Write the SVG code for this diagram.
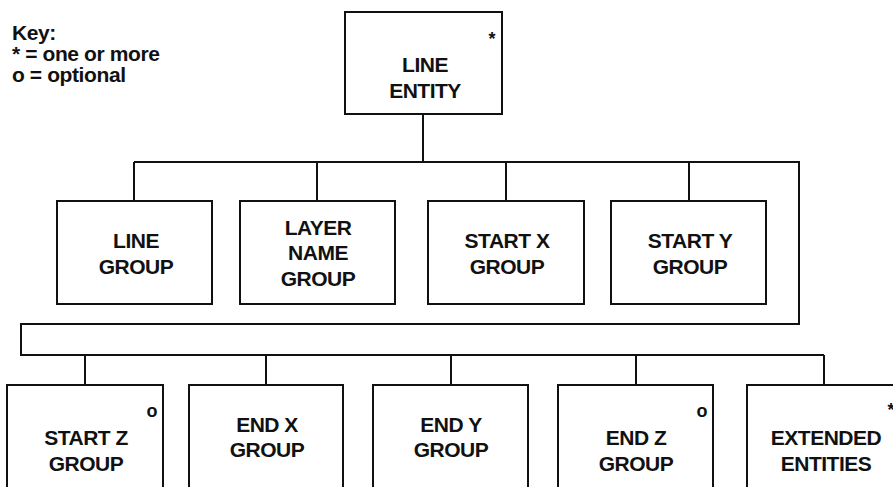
<svg xmlns="http://www.w3.org/2000/svg" width="893" height="487" viewBox="0 0 893 487">
<style>
.box{fill:#fff;stroke:#111;stroke-width:2}
.conn{fill:none;stroke:#111;stroke-width:2}
text{font-family:"Liberation Sans",Arial,sans-serif;fill:#111;font-weight:bold}
.lbl{font-size:21px;text-anchor:middle;letter-spacing:-0.5px}
.key{font-size:21px;letter-spacing:-0.4px}
.mark{font-size:18px;text-anchor:middle}
</style>
<rect width="893" height="487" fill="#fff"/>
<g id="key">
<text class="key" x="12" y="40">Key:</text>
<text class="key" x="12" y="61">* = one or more</text>
<text class="key" x="12" y="82">o = optional</text>
</g>
<g id="connectors" class="conn">
<path d="M423 114V162M134 162H799V324H21V355H824M134 162V201M317 162V201M506 162V201M689 162V201M85 355V385M266 355V385M451 355V385M636 355V385M824 355V385"/>
</g>
<g id="line-entity">
<rect class="box" x="345" y="12" width="157" height="102"/>
<text class="mark" x="492" y="45">*</text>
<text class="lbl" x="425" y="72">LINE</text>
<text class="lbl" x="425" y="98">ENTITY</text>
</g>
<g id="line-group">
<rect class="box" x="57" y="201" width="155" height="103"/>
<text class="lbl" x="136" y="248">LINE</text>
<text class="lbl" x="136" y="274">GROUP</text>
</g>
<g id="layer-name-group">
<rect class="box" x="240" y="201" width="155" height="103"/>
<text class="lbl" x="318" y="235">LAYER</text>
<text class="lbl" x="318" y="260">NAME</text>
<text class="lbl" x="318" y="286">GROUP</text>
</g>
<g id="start-x-group">
<rect class="box" x="428" y="201" width="156" height="103"/>
<text class="lbl" x="507" y="248">START X</text>
<text class="lbl" x="507" y="274">GROUP</text>
</g>
<g id="start-y-group">
<rect class="box" x="611" y="201" width="155" height="103"/>
<text class="lbl" x="690" y="248">START Y</text>
<text class="lbl" x="690" y="274">GROUP</text>
</g>
<g id="start-z-group">
<rect class="box" x="7" y="385" width="156" height="104"/>
<text class="mark" x="152" y="417">o</text>
<text class="lbl" x="86" y="445">START Z</text>
<text class="lbl" x="86" y="471">GROUP</text>
</g>
<g id="end-x-group">
<rect class="box" x="189" y="385" width="154" height="104"/>
<text class="lbl" x="267" y="432">END X</text>
<text class="lbl" x="267" y="457">GROUP</text>
</g>
<g id="end-y-group">
<rect class="box" x="373" y="385" width="155" height="104"/>
<text class="lbl" x="451" y="432">END Y</text>
<text class="lbl" x="451" y="457">GROUP</text>
</g>
<g id="end-z-group">
<rect class="box" x="558" y="385" width="155" height="104"/>
<text class="mark" x="702" y="417">o</text>
<text class="lbl" x="636" y="445">END Z</text>
<text class="lbl" x="636" y="471">GROUP</text>
</g>
<g id="extended-entities">
<rect class="box" x="747" y="385" width="155" height="104"/>
<text class="mark" x="891" y="416">*</text>
<text class="lbl" x="826" y="445">EXTENDED</text>
<text class="lbl" x="826" y="471">ENTITIES</text>
</g>
</svg>
